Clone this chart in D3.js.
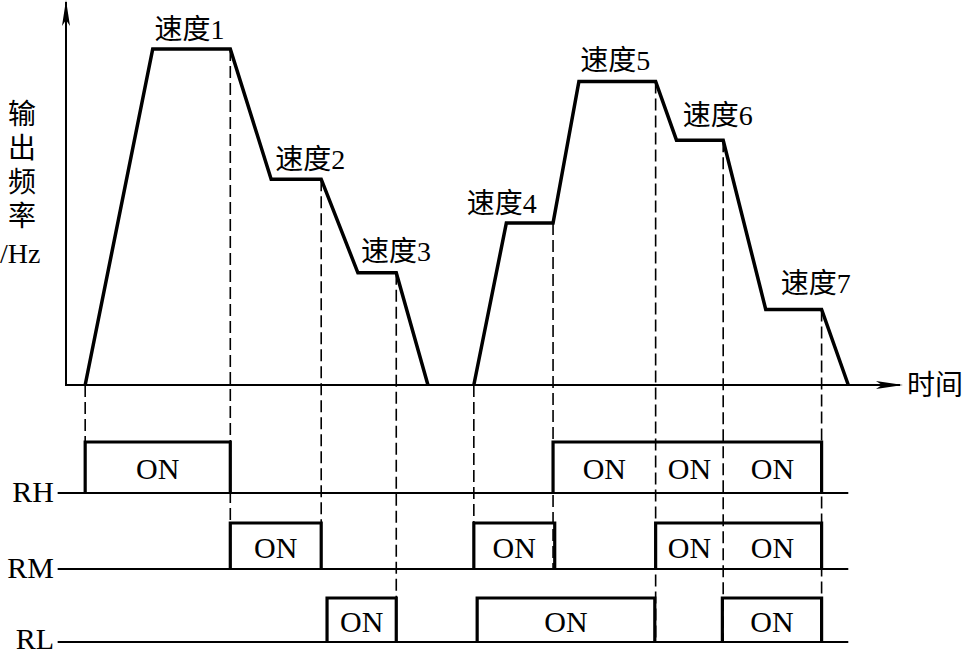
<!DOCTYPE html>
<html><head><meta charset="utf-8">
<script src="https://cdn.jsdelivr.net/npm/d3@7"></script>
<style>html,body{margin:0;padding:0;background:#fff;}svg{display:block;}</style>
</head><body>
<svg id="chart" width="966" height="656"></svg>
<script>
// ---------- DATA ----------
const speedNames = ["速度1","速度2","速度3","速度4","速度5","速度6","速度7"];
const speedFreq  = [56, 34.3, 18.7, 27, 50.6, 40.8, 12.6];      // Hz (relative)
const speedStart = [10.4, 24.6, 35.0, 52.8, 61.5, 73.2, 83.9];  // plateau begin (time)
const speedEnd   = [19.7, 30.6, 39.6, 58.4, 70.7, 78.8, 90.6];  // plateau end (time)
const runStart   = [2.3, 48.9];
const runStop    = [43.4, 93.8];
const runSpeeds  = [[0,1,2],[3,4,5,6]];

const relayNames = ["RH","RM","RL"];
const rhOn = [[2.3,19.7],[58.4,70.7],[70.7,78.8],[78.8,90.6]];
const rmOn = [[19.7,30.6],[48.9,58.6],[70.7,78.8],[78.8,90.6]];
const rlOn = [[31.3,39.6],[49.3,70.6],[78.7,90.6]];
const onLabel = "ON";
const yTitle = ["输","出","频","率","/Hz"];
const xTitle = "时间";

// ---------- LAYOUT ----------
const svg = d3.select("#chart");
const x = d3.scaleLinear().domain([0,100]).range([66,900]);
const y = d3.scaleLinear().domain([0,60]).range([385,25]);
const rowY = d3.scaleOrdinal().domain(relayNames).range([493,569,642]);
const boxH = d3.scaleOrdinal().domain(relayNames).range([51,46,44]);
const labelDx = [-2, 14, 19, -28, -2, 18, 22];
const labelDy = [-20,-20,-21,-20,-21,-25,-26];
const serif = "'Liberation Serif','Times New Roman','Noto Sans CJK SC',serif";

// dashed guide lines
const relayOn = [rhOn, rmOn, rlOn];
const tol = 0.25;
const guides = [];
runStart.forEach(t => guides.push({t, f:0}));
speedEnd.forEach((t,i) => guides.push({t, f:speedFreq[i]}));
guides.forEach(g => {
  let bottom = null;
  relayOn.forEach((ivs,ri) => {
    if (ivs.some(iv => Math.abs(iv[0]-g.t)<tol || Math.abs(iv[1]-g.t)<tol)) bottom = relayNames[ri];
  });
  g.bottom = bottom;
});
svg.append("g").selectAll("line").data(guides.filter(g=>g.bottom)).join("line")
  .attr("x1", d=>x(d.t)).attr("x2", d=>x(d.t))
  .attr("y1", d=>y(d.f)).attr("y2", d=>rowY(d.bottom))
  .attr("stroke","#000").attr("stroke-width",1.6).attr("stroke-dasharray","12,5");

// axes
const axisG = svg.append("g");
axisG.append("line").attr("x1",x(0)).attr("x2",x(0)).attr("y1",y(0)+1).attr("y2",2)
  .attr("stroke","#000").attr("stroke-width",2);
axisG.append("path").attr("d",`M${x(0)},0 L${x(0)-4},26 L${x(0)},20 L${x(0)+4},26 Z`).attr("fill","#000");
axisG.append("line").attr("x1",x(0)).attr("x2",x(100)).attr("y1",y(0)).attr("y2",y(0))
  .attr("stroke","#000").attr("stroke-width",2);
const xe = x(100)+3;
axisG.append("path").attr("d",`M${xe},${y(0)} L${xe-27},${y(0)-4} L${xe-21},${y(0)} L${xe-27},${y(0)+4} Z`).attr("fill","#000");

// axis titles
svg.append("g").selectAll("text").data(yTitle).join("text")
  .attr("x",(d,i)=> i<4 ? 22 : 0)
  .attr("y",(d,i)=>114 + i*34.2 + (i==4?3:0))
  .attr("text-anchor",(d,i)=> i<4 ? "middle":"start")
  .attr("dominant-baseline","central")
  .attr("font-family",serif).attr("font-size",28).text(d=>d);
svg.append("text").attr("x",907).attr("y",y(0)).attr("dominant-baseline","central")
  .attr("font-family",serif).attr("font-size",28).text(xTitle);

// frequency profile
const line = d3.line().x(d=>x(d[0])).y(d=>y(d[1]));
runSpeeds.forEach((sp,ri) => {
  const pts = [[runStart[ri],0]];
  sp.forEach(i => { pts.push([speedStart[i],speedFreq[i]]); pts.push([speedEnd[i],speedFreq[i]]); });
  pts.push([runStop[ri],0]);
  svg.append("path").attr("d",line(pts)).attr("fill","none")
    .attr("stroke","#000").attr("stroke-width",3.5).attr("stroke-linejoin","miter");
});

// speed labels
svg.append("g").selectAll("text").data(speedNames).join("text")
  .attr("x",(d,i)=> (x(speedStart[i])+x(speedEnd[i]))/2 + labelDx[i])
  .attr("y",(d,i)=> y(speedFreq[i]) + labelDy[i])
  .attr("text-anchor","middle").attr("dominant-baseline","central")
  .attr("font-family",serif).attr("font-size",28).text(d=>d);

// relay rows
relayNames.forEach((name,ri) => {
  const base = rowY(name), h = boxH(name);
  const g = svg.append("g");
  g.append("line").attr("x1",x(-1)).attr("x2",x(runStop[1])).attr("y1",base).attr("y2",base)
    .attr("stroke","#000").attr("stroke-width",2);
  g.append("text").attr("x",54).attr("y",Math.min(base+9, 649)).attr("text-anchor","end")
    .attr("font-family",serif).attr("font-size",30).text(name);
  const ivs = relayOn[ri];
  const merged = [];
  ivs.forEach(iv => {
    const last = merged[merged.length-1];
    if (last && Math.abs(last[1]-iv[0])<tol) last[1]=iv[1]; else merged.push([iv[0],iv[1]]);
  });
  g.selectAll("path.box").data(merged).join("path").attr("class","box")
    .attr("d",d=>`M${x(d[0])},${base} L${x(d[0])},${base-h} L${x(d[1])},${base-h} L${x(d[1])},${base}`)
    .attr("fill","none").attr("stroke","#000").attr("stroke-width",3.2).attr("stroke-linejoin","miter");
  g.selectAll("text.on").data(ivs).join("text").attr("class","on")
    .attr("x",d=>(x(d[0])+x(d[1]))/2).attr("y",base-h/2+1)
    .attr("text-anchor","middle").attr("dominant-baseline","central")
    .attr("font-family",serif).attr("font-size",30).text(onLabel);
});
</script>
</body></html>
